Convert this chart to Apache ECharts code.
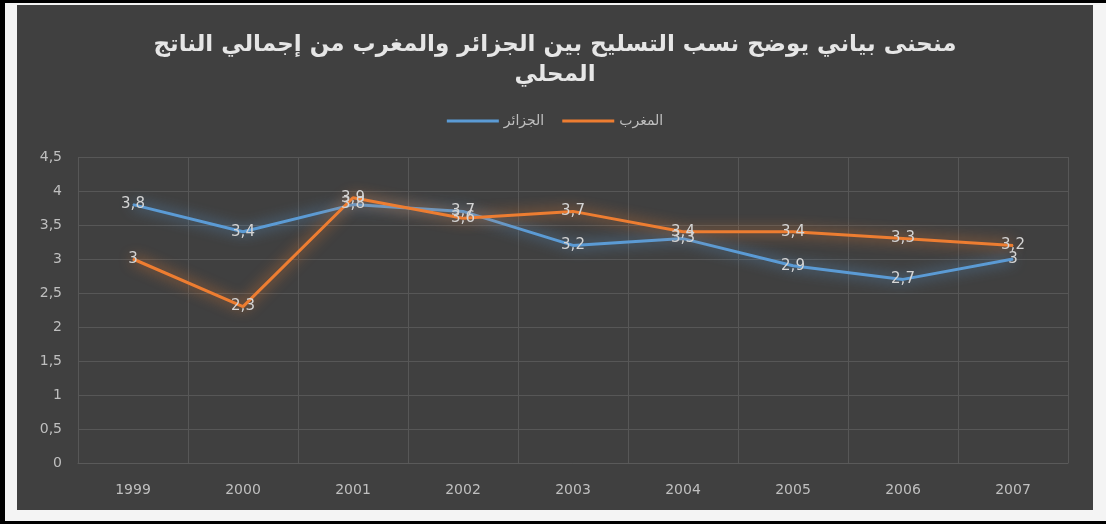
<!DOCTYPE html>
<html>
<head>
<meta charset="utf-8">
<script src="https://cdn.jsdelivr.net/npm/echarts@6/dist/echarts.min.js"></script>
<style>
html,body{margin:0;padding:0;background:#f4f4f4;}
#frame{position:absolute;left:0;top:0;width:1106px;height:524px;box-sizing:border-box;border-left:5px solid #000;border-top:3px solid #000;border-bottom:3px solid #000;background:#f4f4f4;}
#chart{position:absolute;left:17px;top:5px;width:1076px;height:505px;background:#404040;}
</style>
</head>
<body>
<div id="frame"></div>
<div id="chart"></div>
<script>
const categories = ['1999','2000','2001','2002','2003','2004','2005','2006','2007'];
const algeria = [3.8, 3.4, 3.8, 3.7, 3.2, 3.3, 2.9, 2.7, 3.0];
const morocco = [3.0, 2.3, 3.9, 3.6, 3.7, 3.4, 3.4, 3.3, 3.2];
const seriesNames = ['الجزائر', 'المغرب'];
const titleText = 'منحنى بياني يوضح نسب التسليح بين الجزائر والمغرب من إجمالي الناتج\nالمحلي';

const fmt = v => String(v).replace('.', ',');
const chart = echarts.init(document.getElementById('chart'));
function mk(name, data, color){
  return {
    name: name, type: 'line', data: data,
    symbol: 'circle', symbolSize: 1,
    itemStyle: {color: color},
    lineStyle: {width: 3, color: color, shadowBlur: 14, shadowColor: color},
    label: {show: true, position: 'inside', color: '#d4d4d4', fontSize: 15,
      fontFamily: 'DejaVu Sans', formatter: p => fmt(p.value)},
    emphasis: {disabled: true}
  };
}
chart.setOption({
  animation: false,
  backgroundColor: '#404040',
  title: {text: titleText, left: 'center', top: 20,
    textStyle: {color: '#e6e6e6', fontSize: 23, fontWeight: 'bold', fontFamily: 'DejaVu Sans', lineHeight: 30}},
  legend: {data: seriesNames, top: 104, left: 'center', icon: 'rect', itemWidth: 52, itemHeight: 3, itemGap: 18,
    textStyle: {color: '#bfbfbf', fontSize: 14, fontFamily: 'DejaVu Sans'}},
  grid: {left: 61, right: 25, top: 152, bottom: 47},
  xAxis: {type: 'category', data: categories, boundaryGap: true,
    axisLine: {lineStyle: {color: '#5a5a5a'}}, axisTick: {show: false},
    axisLabel: {color: '#bfbfbf', fontSize: 14, margin: 20, fontFamily: 'DejaVu Sans'},
    splitLine: {show: true, lineStyle: {color: '#575757'}}},
  yAxis: {type: 'value', min: 0, max: 4.5, interval: 0.5,
    axisLine: {show: false}, axisTick: {show: false},
    axisLabel: {color: '#bfbfbf', fontSize: 14, margin: 16, fontFamily: 'DejaVu Sans', formatter: v => fmt(v)},
    splitLine: {lineStyle: {color: '#575757'}}},
  series: [mk(seriesNames[0], algeria, '#5b9bd5'), mk(seriesNames[1], morocco, '#ed7d31')]
});
</script>
</body>
</html>
